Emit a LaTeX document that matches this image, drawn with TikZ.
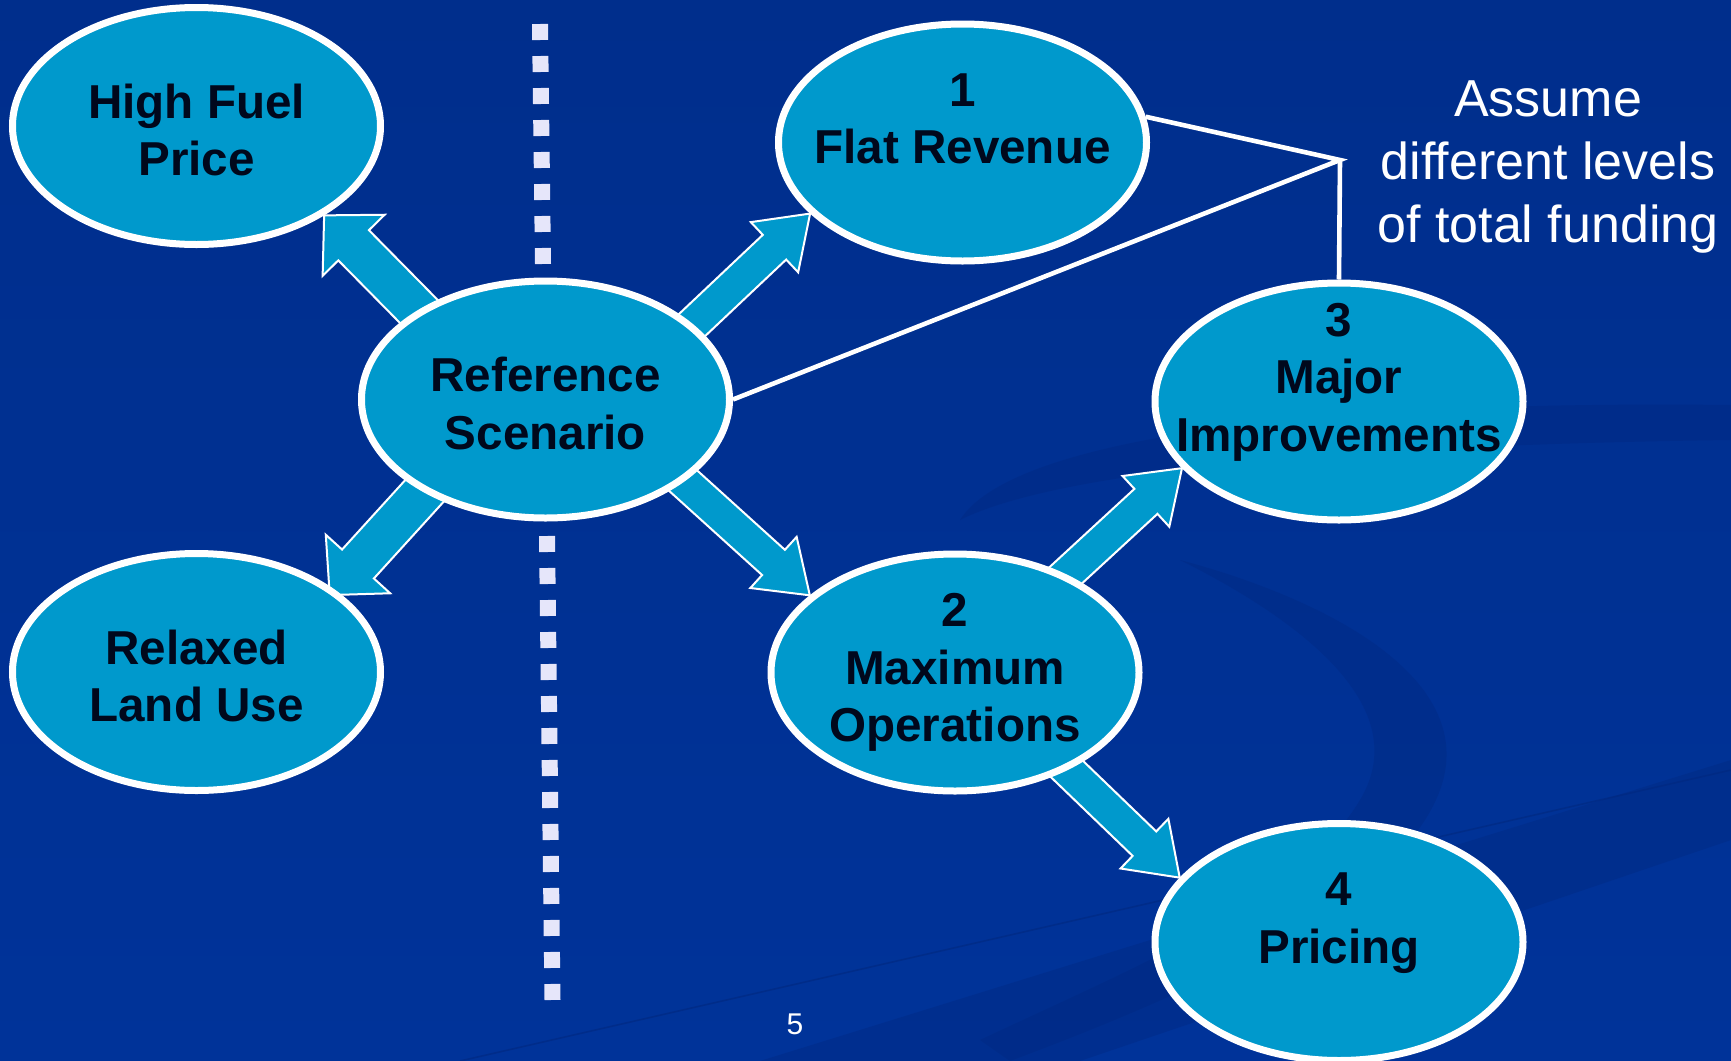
\documentclass[tikz,border=0pt]{standalone}
\usepackage{fontspec}
\setmainfont{Liberation Sans}
\usetikzlibrary{shapes.geometric,calc}
\pgfdeclarelayer{bgl}
\pgfdeclarelayer{arrl}
\pgfsetlayers{bgl,arrl,main}
\definecolor{bgblue}{RGB}{0,51,153}
\definecolor{bgtop}{RGB}{0,46,140}
\definecolor{bgdark}{RGB}{0,40,128}
\definecolor{bubblecol}{RGB}{0,153,204}
\definecolor{ink}{RGB}{0,8,28}
\definecolor{lav}{RGB}{230,230,250}
\newcommand\tup{\rule{0pt}{26pt}}
\newcommand\tdn{\rule[-5pt]{0pt}{5pt}}
% #1 tip, #2 tail, #3 half shaft, #4 half head, #5 head length
\newcommand\blockarrow[5]{%
  \coordinate (ba-b) at ($(#1)!#5!(#2)$);
  \filldraw[barrow] (#1) -- ($(ba-b)!#4!90:(#1)$) -- ($(ba-b)!#3!90:(#1)$)
    -- ($(#2)!#3!90:(#1)$) -- ($(#2)!#3!-90:(#1)$)
    -- ($(ba-b)!#3!-90:(#1)$) -- ($(ba-b)!#4!-90:(#1)$) -- cycle;}
\begin{document}
\begin{tikzpicture}[x=0.5pt,y=-0.5pt,
  bubble/.style={ellipse, draw=white, line width=3.5pt, fill=bubblecol,
    minimum width=184pt, minimum height=118.5pt, inner xsep=-90pt, inner ysep=-45pt,
    align=center, text=ink, font=\fontsize{23.8}{28.7}\selectfont\bfseries},
  barrow/.style={fill=bubblecol, draw=white, line width=1pt, line join=miter},
  conn/.style={draw=white, line width=2.3pt},
  dots/.style={draw=lav, line width=8pt, dash pattern=on 8pt off 8pt},
  note/.style={text=white, align=center, font=\fontsize{26}{31.5}\selectfont},
  pgnum/.style={text=white, font=\fontsize{15}{18}\selectfont},
  swirl/.style={fill=bgdark, opacity=0.4}]
\useasboundingbox (0,0) rectangle (1731,1061);
\begin{pgfonlayer}{bgl}
  \shade[top color=bgtop, bottom color=bgblue] (0,0) rectangle (1731,1061);
  \fill[swirl] (960,520) .. controls (1010,440) and (1300,400) .. (1731,405)
     -- (1731,440) .. controls (1350,445) and (1060,470) .. (960,520) -- cycle;
  \fill[swirl] (1180,560) .. controls (1280,610) and (1420,700) .. (1360,800)
     .. controls (1300,900) and (1150,960) .. (980,1040)
     -- (1010,1061) .. controls (1200,990) and (1400,900) .. (1440,790)
     .. controls (1480,680) and (1330,600) .. (1180,560) -- cycle;
  \fill[swirl] (760,1061) -- (1731,760) -- (1731,840) -- (1080,1061) -- cycle;
  \draw[bgdark, line width=0.8pt, opacity=0.6] (460,1061) -- (1731,770);
\end{pgfonlayer}

% dotted divider
\draw[dots] (540,24) -- (543,264);
\draw[dots] (547,536) -- (552.5,1000);

% bubbles
\node[bubble] (hfp) at (196.5,126) {\tup High Fuel\\Price\tdn};
\node[bubble] (ref) at (545.5,399.5) {\tup Reference\\Scenario\tdn};
\node[bubble] (rlu) at (196.5,672) {\tup Relaxed\\Land Use\tdn};
\node[bubble] (fr) at (962.5,142.5) {\tup 1\\Flat Revenue\\\tdn};
\node[bubble] (maj) at (1339,401.5) {\tup 3\\Major\\Improvements\\\tdn};
\node[bubble] (mo) at (955,672.5) {2\\Maximum\\Operations\tdn};
\node[bubble] (pri) at (1339,942) {\tup 4\\Pricing\\\tdn};

% block arrows (under the bubbles)
\begin{pgfonlayer}{arrl}
  \coordinate (t1) at ($(ref.center)!0.66!(ref.150)$);
  \coordinate (p2) at ($(rlu.center)!0.95!(rlu.30)$);
  \coordinate (t2) at ($(ref.center)!0.65!(ref.212)$);
  \coordinate (t3) at ($(ref.center)!0.59!(ref.17)$);
  \coordinate (t4) at ($(ref.center)!0.61!(ref.-24)$);
  \coordinate (t5) at ($(mo.center)!0.51!(mo.40)$);
  \coordinate (t6) at ($(mo.center)!0.52!(mo.-38.7)$);
  \blockarrow{hfp.-35}{t1}{10.75pt}{21.75pt}{21pt}
  \blockarrow{p2}{t2}{10.75pt}{21.75pt}{21pt}
  \blockarrow{fr.205}{t3}{8.5pt}{17.25pt}{24.5pt}
  \blockarrow{mo.152.5}{t4}{8.5pt}{17.25pt}{24.5pt}
  \blockarrow{maj.203.5}{t5}{8.5pt}{17.25pt}{24.5pt}
  \blockarrow{pri.158}{t6}{8.5pt}{17.25pt}{24.5pt}
\end{pgfonlayer}

% funding connector
\coordinate (junc) at (1340,160);
\draw[conn] (fr.8) -- (junc) -- (ref.east);
\draw[conn] (junc) -- (maj.north);

\node[note] (asm) at (1548,167) {Assume\\different levels\\of total funding};
\node[pgnum] (pg) at (795,1024) {5};
\end{tikzpicture}
\end{document}
